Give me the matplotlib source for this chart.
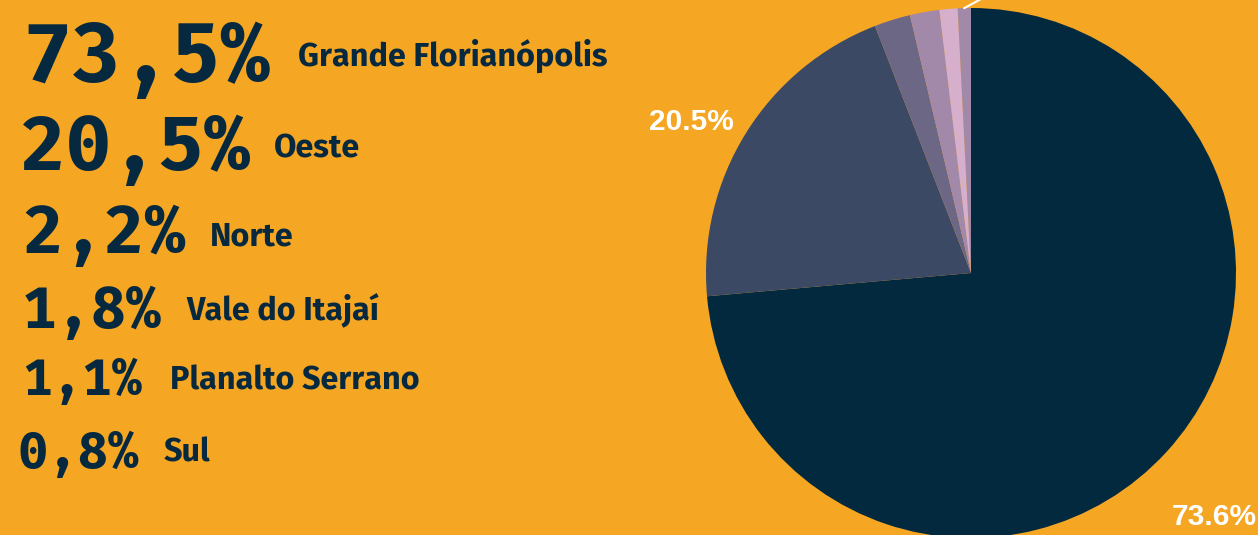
import matplotlib
matplotlib.use("Agg")
import matplotlib.pyplot as plt
from matplotlib import font_manager as fm
import numpy as np

# ---- data ----
regions = ["Grande Florianópolis", "Oeste", "Norte", "Vale do Itajaí", "Planalto Serrano", "Sul"]
legend_pct = ["73,5%", "20,5%", "2,2%", "1,8%", "1,1%", "0,8%"]
pie_values = [73.6, 20.5, 2.2, 1.8, 1.1, 0.8]
pie_labels = ["73.6%", "20.5%", "", "", "", ""]
colors = ["#03293f", "#3b4965", "#6b6785", "#a389a9", "#d5afcb", "#a389a9"]

BG = "#f5a623"
NAVY = "#06293f"

def pick(cands):
    for c in cands:
        try:
            fm.findfont(fm.FontProperties(family=c, weight="bold"), fallback_to_default=False)
            return c
        except Exception:
            continue
    return "DejaVu Sans"

num_font = pick(["Fira Mono", "Fira Code", "Fira Sans", "DejaVu Sans Mono"])
name_font = pick(["Fira Sans", "Roboto", "DejaVu Sans"])

W, H = 1258, 535
fig = plt.figure(figsize=(W / 100, H / 100), dpi=100, facecolor=BG)

def fx(px):
    return px / W

def fy(py):
    return 1 - py / H

# ---- left legend text ----
num_x = [22, 20, 22, 22, 22, 17]
num_base = [82, 170, 253, 328, 395, 468]
num_size = [59.5, 55.5, 49, 42, 36, 36.5]
name_x = [298, 274, 210, 186, 170, 164]
name_base = [66, 157, 246, 320, 389, 462]
for i in range(len(regions)):
    fig.text(fx(num_x[i]), fy(num_base[i]), legend_pct[i], family=[num_font, "DejaVu Sans"],
             weight="bold", fontsize=num_size[i], color=NAVY, ha="left", va="baseline")
    fig.text(fx(name_x[i]), fy(name_base[i]), regions[i], family=[name_font, "DejaVu Sans"],
             weight="bold", fontsize=23.3, color=NAVY, ha="left", va="baseline")

# ---- pie ----
cx, cy, r = 971, 273, 265
ax = fig.add_axes([fx(cx - r), 1 - (cy + r) / H, 2 * r / W, 2 * r / H])
ax.set_facecolor("none")
wedges, _ = ax.pie(pie_values, colors=colors, startangle=90, counterclock=False,
                   radius=1, wedgeprops=dict(linewidth=0))
ax.set_xlim(-1, 1)
ax.set_ylim(-1, 1)
ax.set_aspect("equal")
ax.axis("off")

label_r = [1.3, 1.2]
label_dang = [-2.7, 3.5]
for w, lab, lr, da in zip(wedges, pie_labels, label_r, label_dang):
    if not lab:
        continue
    ang = np.deg2rad((w.theta1 + w.theta2) / 2 + da)
    ax.text(lr * np.cos(ang), lr * np.sin(ang), lab, ha="center", va="center",
            color="white", fontsize=21.5, weight="bold", family="Liberation Sans", clip_on=False)

# leader line of the smallest slice (label falls outside the canvas)
w = wedges[-1]
ang = np.deg2rad((w.theta1 + w.theta2) / 2)
x0, y0 = np.cos(ang), np.sin(ang)
ax.plot([x0, x0 + 0.12], [y0, y0 + 0.065], color="white", lw=1.5, clip_on=False)

fig.savefig("out.png", dpi=100, facecolor=BG)
